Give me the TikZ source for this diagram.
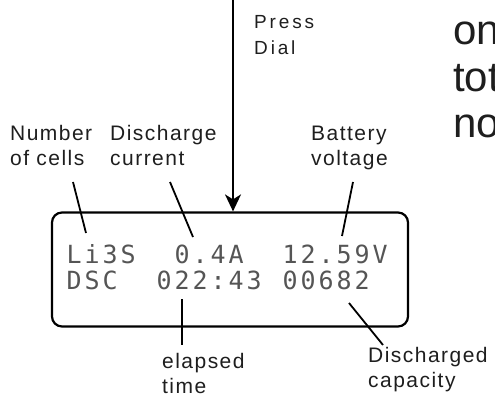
\documentclass[tikz,border=0pt]{standalone}
\usepackage{fontspec}
\setmainfont{Liberation Sans}
\newfontfamily\lblfont{Liberation Sans}[LetterSpace=7]
\newfontfamily\pressfont{Liberation Sans}[LetterSpace=15]
\newfontfamily\lcdfont{DejaVu Sans Mono}
\usetikzlibrary{arrows.meta}
\newcommand\lcdch[1]{\makebox[18pt][c]{#1}}
\def\lcdline#1{\lcdloop#1\relax}
\def\lcdloop#1{\ifx\relax#1\else\lcdch{#1}\expandafter\lcdloop\fi}
\definecolor{ink}{HTML}{1E1E1E}
\definecolor{lcdgray}{HTML}{555555}
\tikzset{
  lbl/.style={anchor=base west, inner sep=0pt, align=left, text=ink,
    font=\lblfont\fontsize{21}{25}\selectfont},
  presslbl/.style={anchor=base west, inner sep=0pt, align=left, text=ink,
    font=\pressfont\fontsize{19}{26}\selectfont},
  biglbl/.style={anchor=base west, inner sep=0pt, align=left, text=ink,
    font=\fontsize{42}{46.5}\selectfont},
  lcdtxt/.style={anchor=base west, inner sep=0pt, text=lcdgray,
    font=\lcdfont\fontsize{25}{25}\selectfont},
  pointer/.style={draw=black, line width=1.8pt},
}
\begin{document}
\begin{tikzpicture}[x=1pt,y=-1pt]
\useasboundingbox (0,0) rectangle (495,398);
% display
\node[draw=black, line width=2.2pt, rounded corners=10pt, minimum width=356pt,
  minimum height=114pt, inner sep=0pt] (lcd) at (230,269.5) {};
\node[lcdtxt] (row1) at (65,263) {\lcdline{Li3S~~0.4A~~12.59V}};
\node[lcdtxt] (row2) at (65,289) {\lcdline{DSC~~022:43~00682}};
% labels (base anchor = last line)
\node[presslbl] (press) at (254,55) {Press\\Dial};
\node[biglbl] (side) at (453,138) {on\\tot\\no};
\node[lbl] (cells) at (10,165.5) {Number\\of cells};
\node[lbl] (curr) at (110,165.5) {Discharge\\current};
\node[lbl] (volt) at (311,166) {Battery\\voltage};
\node[lbl] (time) at (162,393) {elapsed\\time};
\node[lbl] (cap) at (368,387) {Discharged\\capacity};
% connector ends
\coordinate (top) at (233,0);
\coordinate (c1a) at (73,182);  \coordinate (c1b) at (86,233);
\coordinate (c2a) at (170,182); \coordinate (c2b) at (193,237);
\coordinate (c3a) at (353,182); \coordinate (c3b) at (342,236);
\coordinate (c4a) at (182,299); \coordinate (c4b) at (182,345);
\coordinate (c5a) at (349,303); \coordinate (c5b) at (383,345);
% connectors
\draw[pointer, -{Stealth[length=17pt,width=16pt,inset=5pt]}] (top) -- (top |- lcd.north);
\draw[pointer] (c1a) -- (c1b);
\draw[pointer] (c2a) -- (c2b);
\draw[pointer] (c3a) -- (c3b);
\draw[pointer] (c4a) -- (c4b);
\draw[pointer] (c5a) -- (c5b);
\end{tikzpicture}
\end{document}
